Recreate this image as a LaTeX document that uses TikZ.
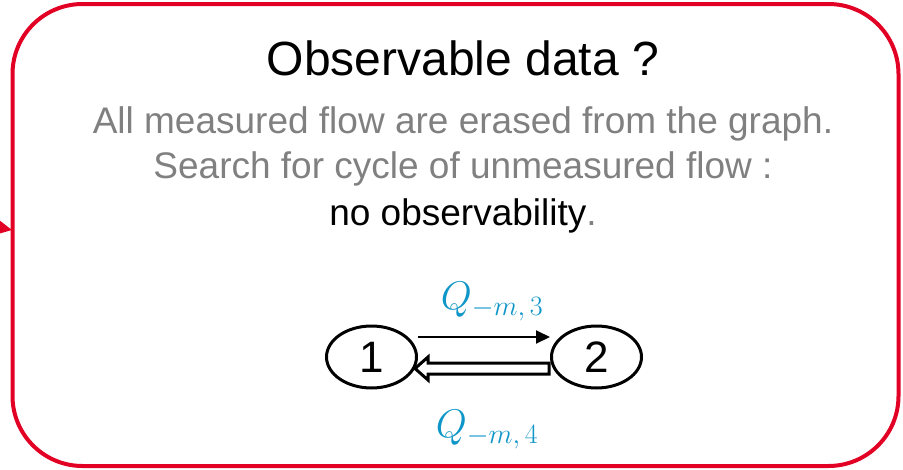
\RequirePackage{fix-cm}
\documentclass[tikz,border=0pt]{standalone}
\usepackage{fontspec}
\setmainfont{Liberation Sans}
\usetikzlibrary{arrows.meta,shapes.geometric}
\definecolor{boxred}{RGB}{226,0,36}
\definecolor{txtgray}{RGB}{128,128,128}
\definecolor{qblue}{RGB}{14,150,200}
\tikzset{
  frame/.style={draw=boxred,line width=4pt,rounded corners=70pt},
  statenode/.style={draw=black,line width=3pt,ellipse,minimum width=90pt,minimum height=62pt,inner sep=0pt,font=\fontsize{44}{44}\selectfont},
  flowlabel/.style={text=qblue,font=\fontsize{40}{40}\selectfont},
  thinflow/.style={draw=black,line width=2pt,-{Triangle[length=14pt,width=13pt]}},
  blockflow/.style={draw=black,line width=3pt,fill=white,line join=miter},
}
\begin{document}
\begin{tikzpicture}[x=1pt,y=-1pt]
\useasboundingbox (0,0) rectangle (903,469);
\begin{scope}
\clip (0,0) rectangle (903,469);
\coordinate (in) at (-40,220);
\coordinate (inend) at (12,230);
\draw[draw=boxred,line width=4pt,-{Stealth[length=24pt,width=24pt]}] (in) -- (inend);
\draw[frame] (12.5,4) rectangle (898.5,466);
\end{scope}
\node[anchor=base,font=\fontsize{48}{48}\selectfont] (title) at (463,75) {Observable data ?};
\node[anchor=base,text=txtgray,font=\fontsize{37}{37}\selectfont] (l1) at (463,133) {All measured flow are erased from the graph.};
\node[anchor=base,text=txtgray,font=\fontsize{37}{37}\selectfont] (l2) at (463,178) {Search for cycle of unmeasured flow :};
\node[anchor=base,font=\fontsize{37}{37}\selectfont] (l3) at (463,225) {no observability\textcolor{txtgray}{.}};
\node[statenode] (n1) at (371.5,357) {1};
\node[statenode] (n2) at (596.5,357) {2};
\draw[thinflow] (n1.east |- 0,337) -- (n2.west |- 0,337);
\node[flowlabel] (q3) at (492,302) {$Q_{-m,\,3}$};
\node[flowlabel] (q4) at (487,430) {$Q_{-m,\,4}$};
\coordinate (tip) at (415,368.5);
\coordinate (tail) at (549,368.5);
\draw[blockflow] (tail) ++(0,-5.5) -- ++(-121,0) -- ++(0,-6) -- (tip) -- (428,380) -- ++(0,-6) -- ++(121,0) -- cycle;
\end{tikzpicture}
\end{document}
